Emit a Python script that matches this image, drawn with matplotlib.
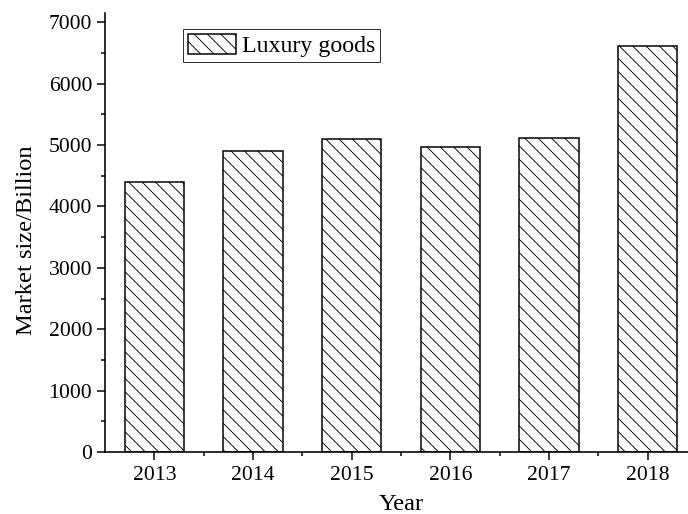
import numpy as np
import matplotlib.pyplot as plt
from matplotlib.ticker import MultipleLocator

# Data
years = [2013, 2014, 2015, 2016, 2017, 2018]
market_size = [4390, 4910, 5090, 4975, 5115, 6620]
series_label = "Luxury goods"

DPI = 80
PX = 72 / DPI  # points per pixel at this dpi

plt.rcParams["font.family"] = ["Liberation Serif", "DejaVu Serif"]
plt.rcParams["hatch.linewidth"] = 0.9 * PX
plt.rcParams["hatch.color"] = "black"

fig = plt.figure(figsize=(688 / DPI, 514 / DPI), dpi=DPI)
ax = fig.add_axes([105 / 688, 62 / 514, 592 / 688, 439 / 514])

# two backslashes -> ~13 px line spacing at 80 dpi, like the reference
ax.bar(years, market_size, width=0.6, color="white", edgecolor="black",
       linewidth=1.5 * PX, hatch="\\\\", label=series_label)

ax.set_xlim(2012.5, 2018.5)
ax.set_ylim(0, 7150)
ax.set_xticks(years)
ax.set_xticks(np.array(years[:-1]) + 0.5, minor=True)
ax.yaxis.set_major_locator(MultipleLocator(1000))
ax.yaxis.set_minor_locator(MultipleLocator(500))

for side in ["top", "right"]:
    ax.spines[side].set_visible(False)
for side in ["left", "bottom"]:
    ax.spines[side].set_linewidth(1.6 * PX)

ax.tick_params(which="major", direction="out", length=8 * PX, width=1.5 * PX,
               labelsize=19.5, pad=5 * PX)
ax.tick_params(axis="x", which="major", pad=6 * PX)
ax.tick_params(which="minor", direction="out", length=4 * PX, width=1.5 * PX)

ax.set_xlabel("Year", fontsize=22, labelpad=8)
ax.set_ylabel("Market size/Billion", fontsize=22)
ax.yaxis.set_label_coords(-0.115, 0.483)

leg = ax.legend(loc="upper left", bbox_to_anchor=(183 / 688, 1 - 29 / 514),
                bbox_transform=fig.transFigure, fontsize=21.5, frameon=True,
                fancybox=False, handlelength=2.0, handleheight=0.9,
                handletextpad=0.25, borderpad=0.2, borderaxespad=0)
leg.get_frame().set_edgecolor("black")
leg.get_frame().set_linewidth(1.0 * PX)

fig.savefig("out.png", dpi=DPI)
